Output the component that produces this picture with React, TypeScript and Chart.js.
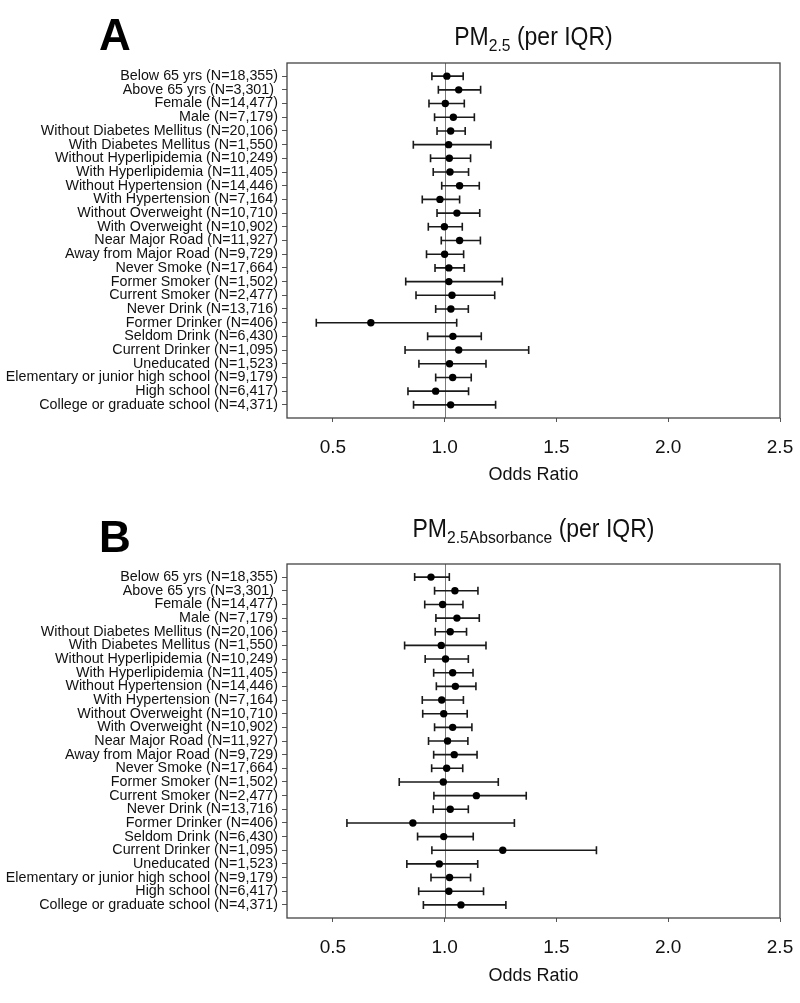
import React, { useEffect, useRef } from "react";
import { Chart, registerables } from "chart.js";
Chart.register(...registerables);

const FONT = "'Liberation Sans', Arial, Helvetica, sans-serif";

const rowLabels = [
  "Below 65 yrs (N=18,355)",
  "Above 65 yrs (N=3,301) ",
  "Female (N=14,477)",
  "Male (N=7,179)",
  "Without Diabetes Mellitus (N=20,106)",
  "With Diabetes Mellitus (N=1,550)",
  "Without Hyperlipidemia (N=10,249)",
  "With Hyperlipidemia (N=11,405)",
  "Without Hypertension (N=14,446)",
  "With Hypertension (N=7,164)",
  "Without Overweight (N=10,710)",
  "With Overweight (N=10,902)",
  "Near Major Road (N=11,927)",
  "Away from Major Road (N=9,729)",
  "Never Smoke (N=17,664)",
  "Former Smoker (N=1,502)",
  "Current Smoker (N=2,477)",
  "Never Drink (N=13,716)",
  "Former Drinker (N=406)",
  "Seldom Drink (N=6,430)",
  "Current Drinker (N=1,095)",
  "Uneducated (N=1,523)",
  "Elementary or junior high school (N=9,179)",
  "High school (N=6,417)",
  "College or graduate school (N=4,371)",
];

// Panel A: PM2.5 (per IQR)
const orA = [1.010, 1.063, 1.003, 1.039, 1.027, 1.018, 1.021, 1.024, 1.067, 0.979, 1.055, 0.999, 1.067, 1.000, 1.019, 1.019, 1.033, 1.028, 0.670, 1.037, 1.063, 1.022, 1.036, 0.960, 1.027];
const loA = [0.943, 0.972, 0.930, 0.955, 0.966, 0.860, 0.937, 0.949, 0.987, 0.900, 0.966, 0.927, 0.985, 0.919, 0.957, 0.826, 0.872, 0.960, 0.426, 0.924, 0.823, 0.885, 0.960, 0.836, 0.861];
const hiA = [1.083, 1.161, 1.088, 1.133, 1.092, 1.207, 1.116, 1.107, 1.155, 1.067, 1.157, 1.079, 1.160, 1.085, 1.088, 1.258, 1.224, 1.106, 1.054, 1.164, 1.376, 1.185, 1.119, 1.107, 1.228];

// Panel B: PM2.5 Absorbance (per IQR)
const orB = [0.939, 1.046, 0.991, 1.055, 1.025, 0.985, 1.004, 1.036, 1.048, 0.987, 0.996, 1.036, 1.013, 1.043, 1.009, 0.994, 1.142, 1.025, 0.858, 0.996, 1.260, 0.976, 1.022, 1.019, 1.073];
const loB = [0.866, 0.955, 0.911, 0.961, 0.958, 0.821, 0.913, 0.951, 0.963, 0.900, 0.902, 0.955, 0.928, 0.951, 0.942, 0.797, 0.952, 0.949, 0.563, 0.879, 0.943, 0.831, 0.939, 0.884, 0.905];
const hiB = [1.021, 1.149, 1.082, 1.155, 1.098, 1.185, 1.106, 1.127, 1.140, 1.084, 1.101, 1.122, 1.104, 1.145, 1.081, 1.240, 1.365, 1.106, 1.312, 1.128, 1.679, 1.148, 1.116, 1.174, 1.274];

const xTicks = [0.5, 1.0, 1.5, 2.0, 2.5];
const X_MIN = 0.295;
const X_MAX = 2.5;
const REF_VALUE = 1.0;
const X_TITLE = "Odds Ratio";

type PanelSpec = {
  letter: string;
  titleMain: string;
  titleSub: string;
  titleRest: string;
  or: number[];
  lo: number[];
  hi: number[];
  height: number;
  padTop: number;
  xAxisH: number;
  titleBaseline: number;
  letterBaseline: number;
  xTitlePadBottom: number;
};

function makeChart(canvas: HTMLCanvasElement, p: PanelSpec) {
  const forest = {
    id: "forest",
    beforeDatasetsDraw(chart: any) {
      const ctx = chart.ctx;
      const xs = chart.scales.x;
      const ys = chart.scales.y;
      const a = chart.chartArea;
      ctx.save();
      const rx = Math.round(xs.getPixelForValue(REF_VALUE)) + 0.5;
      ctx.strokeStyle = "#7a7a7a";
      ctx.lineWidth = 1;
      ctx.beginPath();
      ctx.moveTo(rx, a.top);
      ctx.lineTo(rx, a.bottom);
      ctx.stroke();
      ctx.strokeStyle = "#1a1a1a";
      ctx.lineWidth = 1.6;
      for (let i = 0; i < p.or.length; i++) {
        const yp = ys.getPixelForValue(i);
        const x1 = xs.getPixelForValue(p.lo[i]);
        const x2 = xs.getPixelForValue(p.hi[i]);
        ctx.beginPath();
        ctx.moveTo(x1, yp);
        ctx.lineTo(x2, yp);
        ctx.moveTo(x1, yp - 4);
        ctx.lineTo(x1, yp + 4);
        ctx.moveTo(x2, yp - 4);
        ctx.lineTo(x2, yp + 4);
        ctx.stroke();
      }
      ctx.restore();
    },
    afterDraw(chart: any) {
      const ctx = chart.ctx;
      const a = chart.chartArea;
      ctx.save();
      ctx.strokeStyle = "#444";
      ctx.lineWidth = 1.3;
      ctx.strokeRect(a.left, a.top, a.right - a.left, a.bottom - a.top);
      ctx.fillStyle = "#000";
      ctx.textBaseline = "alphabetic";
      ctx.textAlign = "left";
      ctx.font = `bold 44px ${FONT}`;
      ctx.fillText(p.letter, 99, p.letterBaseline);
      const mainFont = `25px ${FONT}`;
      const subFont = `17px ${FONT}`;
      ctx.font = mainFont;
      const w1 = ctx.measureText(p.titleMain).width;
      const w3 = ctx.measureText(p.titleRest).width;
      ctx.font = subFont;
      const w2 = ctx.measureText(p.titleSub).width;
      const total = w1 + w2 + w3;
      const sx = 0.92;
      const cx = (a.left + a.right) / 2;
      ctx.translate(cx, p.titleBaseline);
      ctx.scale(sx, 1);
      let x0 = -total / 2;
      ctx.fillStyle = "#111";
      ctx.font = mainFont;
      ctx.fillText(p.titleMain, x0, 0);
      x0 += w1;
      ctx.font = subFont;
      ctx.fillText(p.titleSub, x0, 6);
      x0 += w2;
      ctx.font = mainFont;
      ctx.fillText(p.titleRest, x0, 0);
      ctx.restore();
    },
  };

  return new Chart(canvas, {
    type: "scatter",
    data: {
      datasets: [
        {
          data: p.or.map((v, i) => ({ x: v, y: i })),
          pointRadius: 3.7,
          pointHoverRadius: 3.7,
          backgroundColor: "#000",
          borderWidth: 0,
        },
      ],
    },
    options: {
      responsive: false,
      animation: false,
      devicePixelRatio: 1,
      layout: { padding: { top: p.padTop, right: 20, left: 0, bottom: 0 } },
      plugins: { legend: { display: false }, tooltip: { enabled: false }, title: { display: false } },
      scales: {
        x: {
          type: "linear",
          min: X_MIN,
          max: X_MAX,
          afterBuildTicks: (s: any) => {
            s.ticks = xTicks.map((v) => ({ value: v }));
          },
          afterFit: (s: any) => {
            s.height = p.xAxisH;
            s.paddingLeft = 0;
            s.paddingRight = 0;
          },
          ticks: {
            callback: (v: any) => Number(v).toFixed(1),
            font: { size: 19, family: FONT },
            color: "#111",
            padding: 14,
            autoSkip: false,
            maxRotation: 0,
          },
          grid: { drawOnChartArea: false, drawTicks: true, tickLength: 4, color: "#555", lineWidth: 1 },
          border: { display: false },
          title: {
            display: true,
            text: X_TITLE,
            font: { size: 18, family: FONT },
            color: "#111",
            padding: { top: 0, bottom: p.xTitlePadBottom },
          },
        },
        y: {
          type: "linear",
          reverse: true,
          min: -0.96,
          max: 24.96,
          afterBuildTicks: (s: any) => {
            s.ticks = rowLabels.map((_, i) => ({ value: i }));
          },
          afterFit: (s: any) => {
            s.width = 287;
            s.paddingTop = 0;
            s.paddingBottom = 0;
          },
          ticks: {
            callback: (v: any) => rowLabels[Math.round(Number(v))],
            font: { size: 14.3, family: FONT, lineHeight: 1 },
            color: "#111",
            padding: 4,
            autoSkip: false,
          },
          grid: { drawOnChartArea: false, drawTicks: true, tickLength: 5, color: "#555", lineWidth: 1 },
          border: { display: false },
        },
      },
    },
    plugins: [forest],
  } as any);
}

const panelA: PanelSpec = {
  letter: "A",
  titleMain: "PM",
  titleSub: "2.5",
  titleRest: " (per IQR)",
  or: orA,
  lo: loA,
  hi: hiA,
  height: 500,
  padTop: 63,
  xAxisH: 82,
  titleBaseline: 45,
  letterBaseline: 50,
  xTitlePadBottom: 14,
};

const panelB: PanelSpec = {
  letter: "B",
  titleMain: "PM",
  titleSub: "2.5Absorbance",
  titleRest: " (per IQR)",
  or: orB,
  lo: loB,
  hi: hiB,
  height: 503,
  padTop: 64,
  xAxisH: 85,
  titleBaseline: 37,
  letterBaseline: 52,
  xTitlePadBottom: 16,
};

function Panel({ spec, top }: { spec: PanelSpec; top: number }) {
  const ref = useRef<HTMLCanvasElement | null>(null);
  useEffect(() => {
    if (!ref.current) return;
    const c = makeChart(ref.current, spec);
    return () => c.destroy();
  }, [spec]);
  return (
    <canvas
      ref={ref}
      width={800}
      height={spec.height}
      style={{ position: "absolute", left: 0, top, width: 800, height: spec.height, display: "block" }}
    />
  );
}

export default function App() {
  return (
    <div style={{ position: "absolute", left: 0, top: 0, width: 800, height: 1003, background: "#fff" }}>
      <Panel spec={panelA} top={0} />
      <Panel spec={panelB} top={500} />
    </div>
  );
}
